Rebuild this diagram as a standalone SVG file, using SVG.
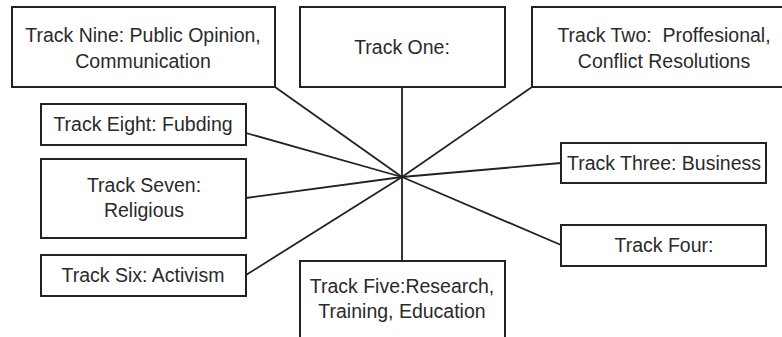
<svg xmlns="http://www.w3.org/2000/svg" width="782" height="337" viewBox="0 0 782 337">
<style>
.box{fill:#fff;stroke:#222;stroke-width:2}
.lbl{font-family:"Liberation Sans",Arial,sans-serif;font-size:19.5px;fill:#2a2a2a;text-anchor:middle}
.conn line{stroke:#222;stroke-width:1.8}
</style>
<rect width="782" height="337" fill="#fff"/>
<g id="connectors" class="conn">
<line x1="402" y1="87" x2="402" y2="177"/>
<line x1="275" y1="87" x2="402" y2="177"/>
<line x1="532" y1="87" x2="402" y2="177"/>
<line x1="246" y1="133" x2="402" y2="177"/>
<line x1="561" y1="163" x2="402" y2="177"/>
<line x1="246" y1="198" x2="402" y2="177"/>
<line x1="561" y1="245" x2="402" y2="177"/>
<line x1="246" y1="275" x2="402" y2="177"/>
<line x1="402" y1="261" x2="402" y2="177"/>
</g>
<g id="track-nine">
<rect class="box" x="12" y="7" width="263" height="80"/>
<text class="lbl" x="143" y="42">Track Nine: Public Opinion,</text>
<text class="lbl" x="143" y="68">Communication</text>
</g>
<g id="track-one">
<rect class="box" x="300" y="7" width="205" height="80"/>
<text class="lbl" x="402" y="54">Track One:</text>
</g>
<g id="track-two">
<rect class="box" x="532" y="7" width="264" height="80"/>
<text class="lbl" x="664" y="42" xml:space="preserve">Track Two:  Proffesional,</text>
<text class="lbl" x="664" y="68">Conflict Resolutions</text>
</g>
<g id="track-eight">
<rect class="box" x="41" y="104" width="205" height="41"/>
<text class="lbl" x="143" y="131">Track Eight: Fubding</text>
</g>
<g id="track-three">
<rect class="box" x="561" y="143" width="205" height="40"/>
<text class="lbl" x="664" y="170">Track Three: Business</text>
</g>
<g id="track-seven">
<rect class="box" x="41" y="159" width="205" height="79"/>
<text class="lbl" x="144" y="192">Track Seven:</text>
<text class="lbl" x="144" y="217">Religious</text>
</g>
<g id="track-four">
<rect class="box" x="561" y="225" width="205" height="41"/>
<text class="lbl" x="664" y="252">Track Four:</text>
</g>
<g id="track-six">
<rect class="box" x="41" y="255" width="205" height="41"/>
<text class="lbl" x="143" y="282">Track Six: Activism</text>
</g>
<g id="track-five">
<rect class="box" x="300" y="261" width="205" height="90"/>
<text class="lbl" x="402" y="293">Track Five:Research,</text>
<text class="lbl" x="402" y="318">Training, Education</text>
</g>
</svg>
